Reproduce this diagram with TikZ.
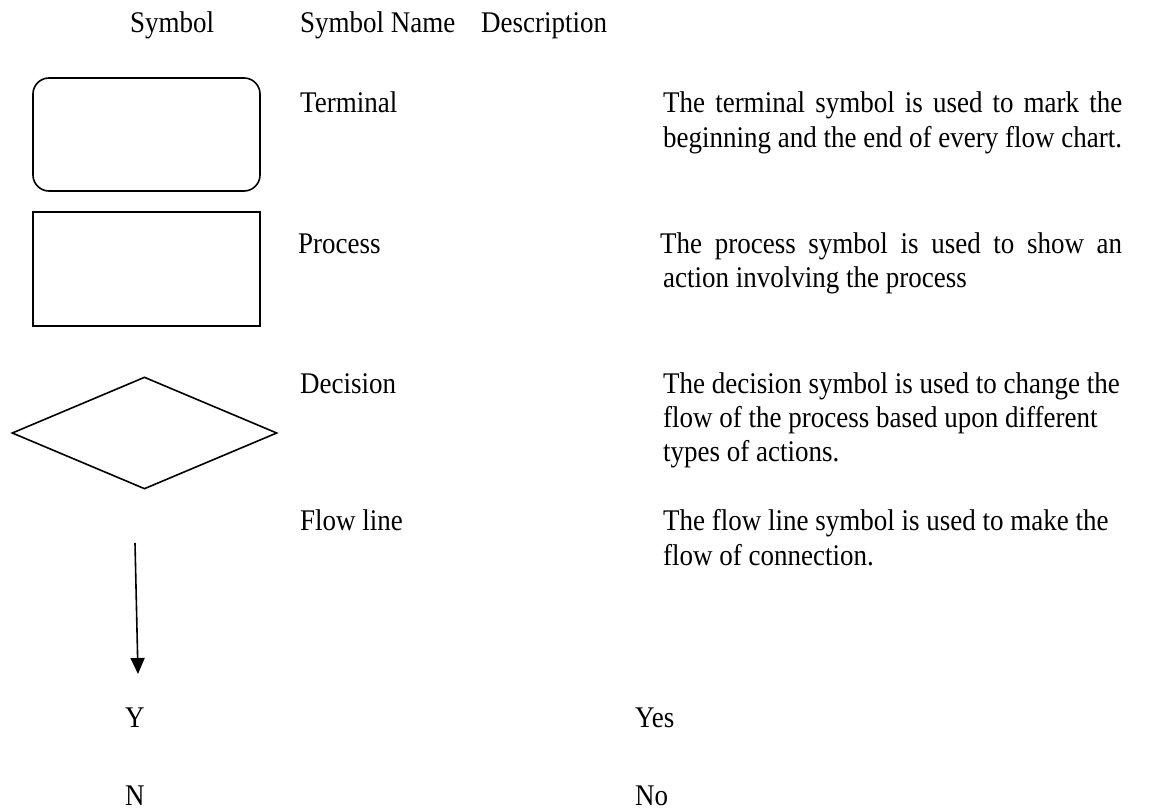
\documentclass[tikz,border=0pt]{standalone}
\usepackage{fontspec}
\setmainfont{Liberation Serif}[FakeStretch=0.9]
\usetikzlibrary{arrows.meta,shapes.geometric}

\begin{document}
\begin{tikzpicture}[x=1pt,y=-1pt,
  txt/.style={anchor=base west, inner sep=0pt, font=\fontsize{30}{34}\selectfont},
  shapeline/.style={draw=black, line width=1.6pt},
  termbox/.style={shapeline, rectangle, rounded corners=16pt, minimum width=227pt, minimum height=113pt, inner sep=0pt},
  procbox/.style={shapeline, rectangle, minimum width=227pt, minimum height=114pt, inner sep=0pt},
  decbox/.style={shapeline, diamond, minimum width=265pt, minimum height=112pt, inner sep=0pt},
  flowarrow/.style={line width=1.6pt, -{Triangle[length=16pt,width=14pt]}}]

\useasboundingbox (0,0) rectangle (1160,811);

% column headings
\node[txt] (hsym)  at (130,32) {Symbol};
\node[txt] (hname) at (300,32) {Symbol Name};
\node[txt] (hdesc) at (481,32) {Description};

% terminal
\node[termbox] (term) at (146.5,134.5) {};
\node[txt] (termname) at (300,112) {Terminal};
\node[txt] (termd1) at (663,112) {\makebox[459pt][s]{The terminal symbol is used to mark the}};
\node[txt] (termd2) at (663,147) {beginning and the end of every flow chart.};

% process
\node[procbox] (proc) at (146.5,269) {};
\node[txt] (procname) at (298,253) {Process};
\node[txt] (procd1) at (660,253) {\makebox[462pt][s]{The process symbol is used to show an}};
\node[txt] (procd2) at (663,287) {action involving the process};

% decision
\node[decbox] (dec) at (144.5,433) {};
\node[txt] (decname) at (300,393) {Decision};
\node[txt] (decd1) at (663,393) {The decision symbol is used to change the};
\node[txt] (decd2) at (663,427) {flow of the process based upon different};
\node[txt] (decd3) at (663,461) {types of actions.};

% flow line
\coordinate (fltop) at (135,543);
\coordinate (fltip) at (138,674);
\draw[flowarrow] (fltop) -- (fltip);
\node[txt] (flname) at (300,530) {Flow line};
\node[txt] (fld1) at (663,530) {The flow line symbol is used to make the};
\node[txt] (fld2) at (663,565) {flow of connection.};

% yes / no
\node[txt] (ysym) at (125,727) {Y};
\node[txt] (ydesc) at (635,727) {Yes};
\node[txt] (nsym) at (125,805) {N};
\node[txt] (ndesc) at (635,805) {No};
\end{tikzpicture}
\end{document}
